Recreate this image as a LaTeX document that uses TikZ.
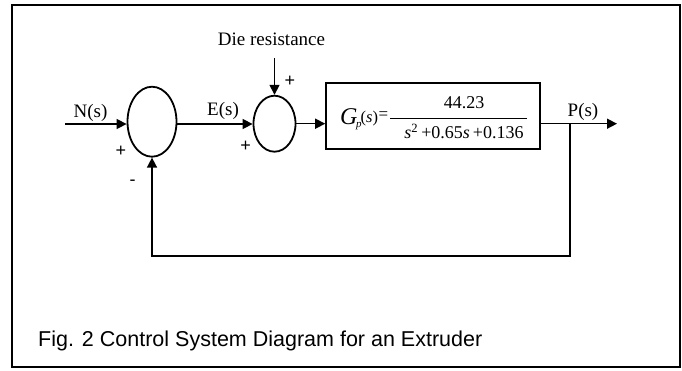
\documentclass[tikz,border=0pt]{standalone}
\usepackage{fontspec}
\setmainfont{Liberation Serif}
\newfontfamily\arialf{Liberation Sans}
\usetikzlibrary{shapes.geometric,arrows.meta}
\tikzset{
  conn/.style={line width=1.5pt,-{Triangle[length=10pt,width=10pt]}},
  sumj/.style={ellipse,draw,line width=1.8pt,inner sep=0pt},
  lbl/.style={font=\fontsize{19}{19}\selectfont,inner sep=0pt,anchor=base},
  sgn/.style={font=\arialf\fontsize{18}{18}\selectfont,inner sep=0pt},
  frm/.style={font=\fontsize{18}{18}\selectfont,inner sep=0pt,anchor=base}
}
\begin{document}
\begin{tikzpicture}[x=1pt,y=-1pt]
\useasboundingbox (0,0) rectangle (682,370);
\draw[line width=2.4pt] (12,5) rectangle (680,367);
% summing junctions and plant
\node[sumj,minimum width=49pt,minimum height=70pt] (sum1) at (152,121.7) {};
\node[sumj,minimum width=42pt,minimum height=56pt] (sum2) at (274.5,123.7) {};
\node[draw,line width=1.6pt,rectangle,minimum width=214pt,minimum height=66pt,inner sep=0pt] (plant) at (433,116) {};
% formula
\node[inner sep=0pt,anchor=base west,font=\fontsize{24}{24}\selectfont\itshape] (gG) at (340,124) {G};
\node[inner sep=0pt,anchor=base west,font=\fontsize{11}{11}\selectfont\itshape] (gp) at (356,127.5) {p};
\node[inner sep=0pt,anchor=base west,font=\fontsize{16.5}{16.5}\selectfont] (gs) at (360.5,122.5) {(\textit{s})};
\node[inner sep=0pt,font=\fontsize{17}{17}\selectfont] (geq) at (383.5,116) {=};
\coordinate (fl) at (390,118.7);
\coordinate (fr) at (527,118.7);
\draw[line width=0.9pt] (fl) -- (fr);
\node[frm] (num) at (464,108) {44.23};
\node[frm] (den) at (464,138.7) {\textit{s}\textsuperscript{2}\,+0.65\textit{s}\,+0.136};
% coordinates
\coordinate (nin) at (65,124);
\coordinate (dtop) at (274.5,58);
\coordinate (pout) at (617,123.7);
\coordinate (br) at (570,123.7);
\coordinate (fbl) at (152,256);
% connectors
\draw[conn] (nin) -- (nin -| sum1.west);
\draw[conn] (sum1.east |- nin) -- (sum2.west |- nin);
\draw[conn] (sum2.east) -- (sum2.east -| plant.west);
\draw[conn] (dtop) -- (sum2.north);
\draw[conn] (plant.east |- sum2.east) -- (pout);
\draw[conn] (br) -- (br |- fbl) -- (fbl) -- (sum1.south);
% labels
\node[lbl] (ldie) at (271.5,45) {Die resistance};
\node[lbl] (lN) at (90.5,117) {N(s)};
\node[lbl] (lE) at (223,115) {E(s)};
\node[lbl] (lP) at (583,116) {P(s)};
\node[sgn] (s1) at (121,151) {+};
\node[sgn] (s2) at (132.7,183) {-};
\node[sgn] (s3) at (245.7,146.7) {+};
\node[sgn] (s4) at (290,81.7) {+};
% caption
\node[inner sep=0pt,anchor=base west,font=\arialf\fontsize{21.5}{21.5}\selectfont] (cap) at (38,346.3) {Fig. 2 Control System Diagram for an Extruder};
\end{tikzpicture}
\end{document}
